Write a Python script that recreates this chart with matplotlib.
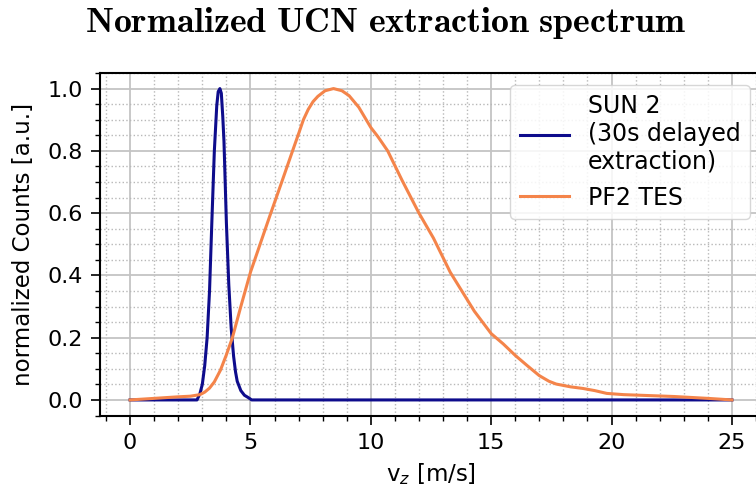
import matplotlib
matplotlib.use("Agg")
import matplotlib.pyplot as plt
from matplotlib.ticker import MultipleLocator

# SUN 2 (30s delayed extraction)
sun2_v = [0, 2.0, 2.78, 2.9, 3.0, 3.1, 3.2, 3.3, 3.4, 3.5, 3.6, 3.66, 3.73,
          3.79, 3.85, 3.9, 4.0, 4.1, 4.2, 4.3, 4.38, 4.45, 4.6, 4.75, 4.9,
          5.05, 25]
sun2_y = [0, 0, 0, 0.02, 0.05, 0.11, 0.2, 0.35, 0.58, 0.80, 0.945, 0.99, 1.0,
          0.985, 0.91, 0.83, 0.57, 0.37, 0.23, 0.14, 0.09, 0.06, 0.03, 0.015,
          0.008, 0, 0]

# PF2 TES
pf2_v = [0, 1, 2, 2.5, 2.9, 3.1, 3.3, 3.5, 3.75, 4.0, 4.25, 4.6, 5.0, 5.4,
         5.8, 6.3, 6.75, 7.0, 7.2, 7.4, 7.6, 7.8, 8.1, 8.45, 8.8, 9.1, 9.5,
         10.0, 10.3, 10.7, 11.3, 12.0, 12.6, 13.3, 13.9, 14.3, 15.0, 15.5,
         16.0, 16.5, 17.0, 17.4, 17.7, 18.3, 18.8, 19.3, 19.8, 20.5, 21.2,
         22.6, 24.0, 25.0]
pf2_y = [0, 0.005, 0.01, 0.012, 0.017, 0.025, 0.038, 0.058, 0.095, 0.145,
         0.20, 0.30, 0.41, 0.50, 0.59, 0.70, 0.80, 0.855, 0.90, 0.933, 0.958,
         0.975, 0.993, 1.0, 0.993, 0.977, 0.94, 0.875, 0.845, 0.80, 0.705,
         0.60, 0.52, 0.41, 0.335, 0.285, 0.213, 0.18, 0.143, 0.11, 0.078,
         0.06, 0.051, 0.042, 0.037, 0.03, 0.021, 0.017, 0.015, 0.011, 0.005,
         0.0]

plt.rcParams["font.size"] = 16

fig = plt.figure(figsize=(7.56, 4.91), dpi=100)
ax = fig.add_axes([100 / 756, 75.5 / 491, 662 / 756, 342.5 / 491])

ax.plot(sun2_v, sun2_y, color="#0e0c8c", lw=2.2,
        label="SUN 2\n(30s delayed\nextraction)", zorder=3)
ax.plot(pf2_v, pf2_y, color="#f4844a", lw=2.2, label="PF2 TES", zorder=3)

ax.set_xlim(-1.25, 26.25)
ax.set_ylim(-0.05, 1.05)
ax.xaxis.set_major_locator(MultipleLocator(5))
ax.xaxis.set_minor_locator(MultipleLocator(1))
ax.yaxis.set_major_locator(MultipleLocator(0.2))
ax.yaxis.set_minor_locator(MultipleLocator(0.05))

ax.grid(which="major", color="#c4c4c4", lw=1.3, ls="-")
ax.grid(which="minor", color="#b8b8b8", lw=1.0, ls=":")
ax.set_axisbelow(True)

ax.tick_params(which="major", direction="out", length=6.5, width=1.2,
               labelsize=16, pad=6)
ax.tick_params(which="minor", direction="out", length=3.8, width=1.0)
for s in ax.spines.values():
    s.set_linewidth(1.5)

ax.set_xlabel(r"v$_z$ [m/s]", fontsize=16.5, labelpad=6)
ax.set_ylabel("normalized Counts [a.u.]", fontsize=16.5, labelpad=9)

leg = ax.legend(loc="upper right", fontsize=17, handlelength=2.1,
                framealpha=0.85, edgecolor="#d0d0d0")

fig.text(386 / 756, 1 - 32 / 491,
         r"$\mathbf{Normalized\ UCN\ extraction\ spectrum}$",
         ha="center", va="baseline", fontsize=25.8, math_fontfamily="cm")

fig.savefig("out.png", dpi=100)
